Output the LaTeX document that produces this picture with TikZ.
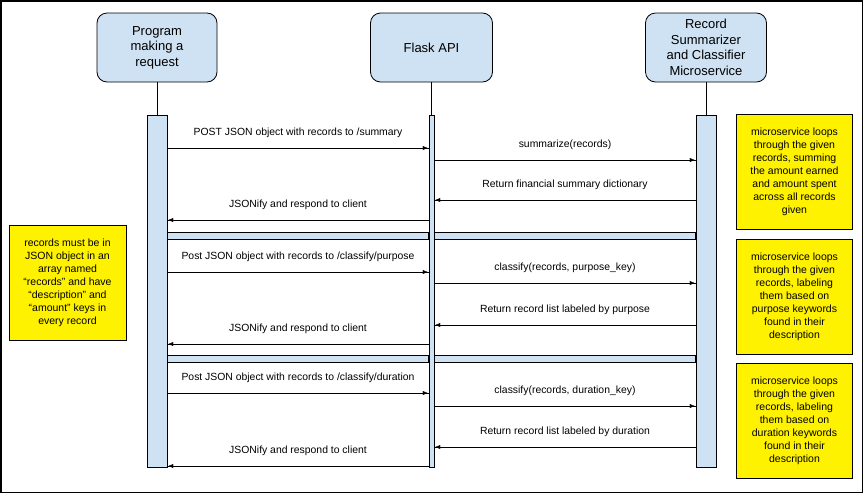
\documentclass[tikz,border=0pt]{standalone}
\usepackage{fontspec}
\setmainfont{Liberation Sans}
\usepackage{xcolor}
\definecolor{lblue}{RGB}{207,226,243}
\usetikzlibrary{positioning, arrows.meta, decorations.markings}
\tikzstyle{Actor} = [
draw,
line width=0.8pt,
fill=lblue,
rounded corners=10pt,
minimum width=120pt,
minimum height=69pt,
align=center,
font=\fontsize{13}{15.5}\selectfont]
\tikzstyle{Bar} = [
draw,
line width=0.8pt,
fill=lblue,
minimum width=20pt,
minimum height=352pt,
inner sep=0pt]
\tikzstyle{Divider} = [
draw,
line width=0.8pt,
fill=lblue]
\tikzstyle{Note} = [
draw,
line width=0.8pt,
fill=yellow,
minimum width=116pt,
minimum height=115pt,
align=center,
font=\fontsize{10.5}{13}\selectfont]
\tikzstyle{Msg} = [
above=7pt,
font=\fontsize{10.4}{13}\selectfont]
\tikzstyle{Arrow} = [
line width=0.8pt,
decoration={
markings,
mark=at position 0.9999 with {
\arrow{Latex[length=6pt,width=5pt]}}},
preaction = {decorate}]

\begin{document}
\begin{tikzpicture}[x=1pt, y=-1pt]
    \useasboundingbox (0,0) rectangle (863,493);
    \draw[line width=1.5pt] (0.75,0.75) rectangle (862.25,492.25);

    \node[Actor] (1) at (157,47.5) {Program\\making a\\request};
    \node[Actor, minimum width=122pt] (2) at (431.5,47.5) {Flask API};
    \node[Actor, minimum width=121pt] (3) at (706,47.5) {Record\\Summarizer\\and Classifier\\Microservice};
    \node[Bar, below=33pt of 1] (4) {};
    \node[Bar, minimum width=5pt, below=33pt of 2] (5) {};
    \node[Bar, below=33pt of 3] (6) {};

    \draw[line width=0.8pt] (1) -- (4);
    \draw[line width=0.8pt] (2) -- (5);
    \draw[line width=0.8pt] (3) -- (6);

    \draw[Divider] (4.east |- 0,232) rectangle (5.west |- 0,239);
    \draw[Divider] (5.east |- 0,232) rectangle (6.west |- 0,239);
    \draw[Divider] (4.east |- 0,355) rectangle (5.west |- 0,362);
    \draw[Divider] (5.east |- 0,355) rectangle (6.west |- 0,362);

    \draw[Arrow] (4.east |- 0,148) -- node[Msg] {POST JSON object with records to /summary} (5.west |- 0,148);
    \draw[Arrow] (5.east |- 0,160) -- node[Msg] {summarize(records)} (6.west |- 0,160);
    \draw[Arrow] (6.west |- 0,200) -- node[Msg] {Return financial summary dictionary} (5.east |- 0,200);
    \draw[Arrow] (5.west |- 0,220) -- node[Msg] {JSONify and respond to client} (4.east |- 0,220);

    \draw[Arrow] (4.east |- 0,272) -- node[Msg] {Post JSON object with records to /classify/purpose} (5.west |- 0,272);
    \draw[Arrow] (5.east |- 0,283) -- node[Msg] {classify(records, purpose\_key)} (6.west |- 0,283);
    \draw[Arrow] (6.west |- 0,325) -- node[Msg] {Return record list labeled by purpose} (5.east |- 0,325);
    \draw[Arrow] (5.west |- 0,344) -- node[Msg] {JSONify and respond to client} (4.east |- 0,344);

    \draw[Arrow] (4.east |- 0,393) -- node[Msg] {Post JSON object with records to /classify/duration} (5.west |- 0,393);
    \draw[Arrow] (5.east |- 0,406) -- node[Msg] {classify(records, duration\_key)} (6.west |- 0,406);
    \draw[Arrow] (6.west |- 0,447) -- node[Msg] {Return record list labeled by duration} (5.east |- 0,447);
    \draw[Arrow] (5.west |- 0,466) -- node[Msg] {JSONify and respond to client} (4.east |- 0,466);

    \node[Note] (7) at (794.5,171.5) {microservice loops\\through the given\\records, summing\\the amount earned\\and amount spent\\across all records\\given};
    \node[Note] (8) at (794.5,296.5) {microservice loops\\through the given\\records, labeling\\them based on\\purpose keywords\\found in their\\description};
    \node[Note] (9) at (794.5,421) {microservice loops\\through the given\\records, labeling\\them based on\\duration keywords\\found in their\\description};
    \node[Note, minimum width=117pt] (10) at (67.5,282.5) {records must be in\\JSON object in an\\array named\\“records” and have\\“description” and\\“amount” keys in\\every record};
\end{tikzpicture}
\end{document}
